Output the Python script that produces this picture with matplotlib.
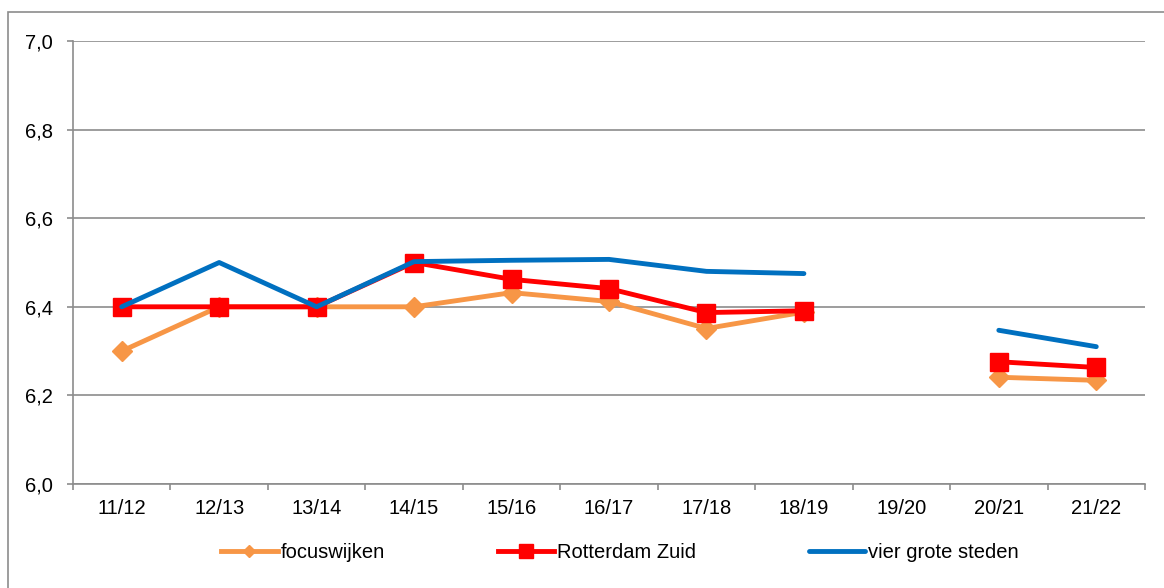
import numpy as np
import matplotlib.pyplot as plt
from matplotlib.lines import Line2D
from matplotlib.patches import Rectangle

plt.rcParams['font.family'] = ['Liberation Sans', 'DejaVu Sans']

years = ['11/12', '12/13', '13/14', '14/15', '15/16', '16/17',
         '17/18', '18/19', '19/20', '20/21', '21/22']
focuswijken = [6.30, 6.40, 6.40, 6.40, 6.432, 6.412, 6.351, 6.388, np.nan, 6.241, 6.234]
rotterdam_zuid = [6.40, 6.40, 6.40, 6.50, 6.462, 6.441, 6.387, 6.391, np.nan, 6.276, 6.263]
vier_steden = [6.40, 6.50, 6.40, 6.502, 6.505, 6.507, 6.480, 6.475, np.nan, 6.347, 6.310]

grey = '#8c8c8c'
c_focus = '#f79646'
c_rdz = '#ff0000'
c_g4 = '#0070c0'
fs = 14.5

fig = plt.figure(figsize=(11.64, 5.88), dpi=100)
ax = fig.add_axes([73 / 1164, (588 - 484) / 588, (1145 - 73) / 1164, (484 - 41) / 588])

# outer chart border
fig.patches.append(Rectangle((8 / 1164, -0.1), 1.2, (588 - 12) / 588 + 0.1,
                             transform=fig.transFigure, fill=False,
                             edgecolor=grey, linewidth=1.2))

x = np.arange(len(years))
ax.plot(x, focuswijken, color=c_focus, lw=3.5, marker='D', ms=10,
        mec=c_focus, mfc=c_focus, zorder=3)
ax.plot(x, rotterdam_zuid, color=c_rdz, lw=3.5, marker='s', ms=12.5,
        mec=c_rdz, mfc=c_rdz, zorder=4)
ax.plot(x, vier_steden, color=c_g4, lw=3.5, solid_capstyle='round', zorder=5)

ax.set_xlim(-0.5, len(years) - 0.5)
ax.set_ylim(6.0, 7.0)
ax.set_yticks(np.arange(6.0, 7.01, 0.2))
ax.set_yticklabels([f'{v:.1f}'.replace('.', ',') for v in np.arange(6.0, 7.01, 0.2)])
ax.yaxis.grid(True, color=grey, lw=1.2)
ax.set_axisbelow(True)

ax.set_xticks(x)
ax.set_xticklabels(years)
ax.set_xticks(np.arange(-0.5, len(years), 1.0), minor=True)
ax.tick_params(axis='x', which='major', length=0, pad=11, labelsize=fs)
ax.tick_params(axis='x', which='minor', length=4.5, color=grey, width=1.2)
ax.tick_params(axis='y', length=4.5, color=grey, width=1.2, labelsize=fs, pad=10)

for side in ['top', 'right']:
    ax.spines[side].set_visible(False)
for side in ['left', 'bottom']:
    ax.spines[side].set_color(grey)
    ax.spines[side].set_linewidth(1.2)

handles = [
    Line2D([], [], color=c_focus, lw=3.5, marker='D', ms=6),
    Line2D([], [], color=c_rdz, lw=3.5, marker='s', ms=10),
    Line2D([], [], color=c_g4, lw=3.5, solid_capstyle='round'),
]
fig.legend(handles, ['focuswijken', 'Rotterdam Zuid', 'vier grote steden'],
           loc='center', bbox_to_anchor=(620 / 1164, 1 - 553 / 588), ncol=3,
           frameon=False, fontsize=fs, handlelength=2.8, handletextpad=0.15,
           columnspacing=5.6)

fig.savefig('out.png', dpi=100)
